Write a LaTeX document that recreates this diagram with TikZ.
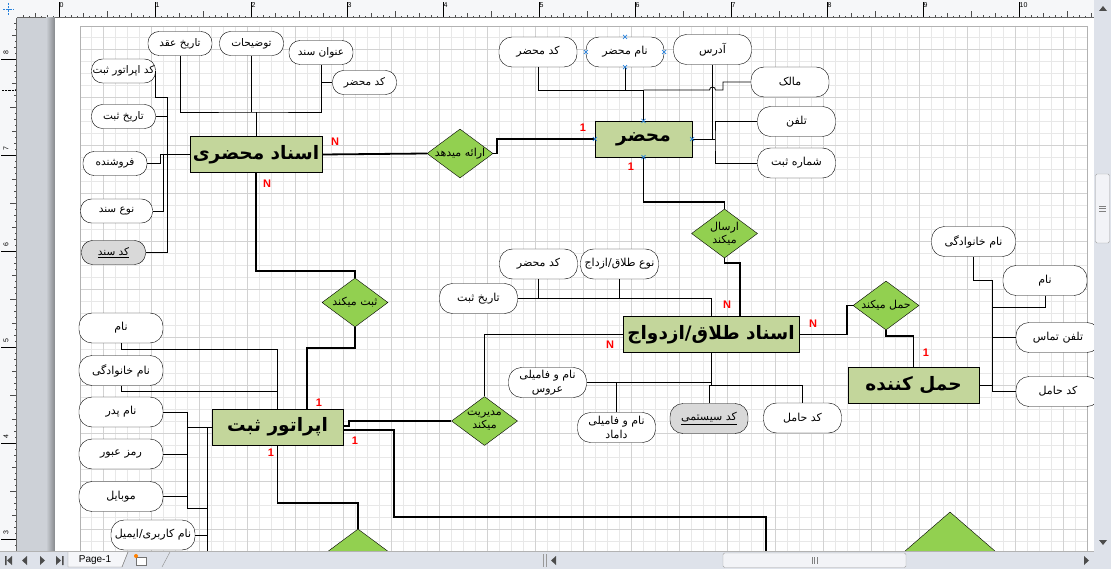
\documentclass[tikz,border=0pt]{standalone}
\usepackage{fontspec}
\usetikzlibrary{shapes.geometric}
\TeXXeTstate=1
\newfontfamily\farsi[Script=Arabic]{DejaVu Sans}
\newfontfamily\arial{Liberation Sans}
\newcommand{\pers}[1]{{\farsi\beginR #1\endR}}
\newcommand{\rtx}[1]{\makebox[0pt]{\pers{#1}}}
\definecolor{entfill}{RGB}{195,214,155}
\definecolor{relfill}{RGB}{146,208,80}
\definecolor{keyfill}{RGB}{217,217,217}
\definecolor{gridc}{RGB}{232,232,232}
\definecolor{gridm}{RGB}{210,210,210}
\definecolor{uibar}{RGB}{222,226,234}
\definecolor{margc}{RGB}{205,209,215}
\definecolor{rulerc}{RGB}{246,247,249}
\definecolor{selc}{RGB}{40,130,220}
\tikzset{
  attr/.style={draw,fill=white,rounded corners=13pt,minimum width=78pt,minimum height=30pt,inner sep=1pt,font=\fontsize{11}{14}\selectfont,align=center},
  smattr/.style={attr,minimum width=64pt,minimum height=24pt,rounded corners=11pt,font=\fontsize{10.5}{12}\selectfont},
  keyattr/.style={fill=keyfill},
  ent/.style={draw,fill=entfill,minimum height=36pt,inner sep=2pt,font=\bfseries\fontsize{18.5}{20}\selectfont},
  rel/.style={diamond,draw,fill=relfill,inner sep=0pt,minimum width=66pt,minimum height=49pt,font=\fontsize{11}{13}\selectfont,align=center},
  link/.style={line width=0.8pt},
  rlink/.style={line width=1.8pt},
  card/.style={text=red,font=\arial\bfseries\fontsize{11}{12}\selectfont,inner sep=0pt},
  selx/.style={selc,line width=0.7pt},
  rnum/.style={font=\arial\fontsize{7}{8}\selectfont,inner sep=0.5pt}
}
\begin{document}
\begin{tikzpicture}[x=1pt,y=-1pt]
\useasboundingbox (0,0) rectangle (1111,569);
\fill[uibar] (0,0) rectangle (1111,569);
\fill[rulerc] (0,0) rectangle (1094,18);
\fill[rulerc] (0,18) rectangle (17,551);
\draw[selc,densely dotted] (3,9) -- (14,9) (8,3) -- (8,15);
\foreach \x in {23,29,...,1091} \draw[black!70] (\x,18) -- (\x,16);
\foreach \x in {23,35,...,1091} \draw[black!70] (\x,18) -- (\x,15);
\foreach \x in {35,59,...,1091} \draw[black!70] (\x,18) -- (\x,13);
\foreach \x in {59,107,...,1091} \draw[black!70] (\x,18) -- (\x,11);
\foreach \x/\n in {59/0,155/1,251/2,347/3,443/4,539/5,635/6,731/7,827/8,923/9,1019/10}{
  \draw (\x,18) -- (\x,2);
  \node[rnum,anchor=north west] (rx\n) at (\x,1.5) {\n};
}
\draw[black!60] (17,17.5) -- (1094,17.5);
\foreach \y in {23,29,...,551} \draw[black!70] (17,\y) -- (15,\y);
\foreach \y in {23,35,...,551} \draw[black!70] (17,\y) -- (14,\y);
\foreach \y in {35,59,...,551} \draw[black!70] (17,\y) -- (12,\y);
\foreach \y in {59,107,...,551} \draw[black!70] (17,\y) -- (10,\y);
\foreach \y/\n in {59/8,155/7,251/6,347/5,443/4,539/3}{
  \draw (17,\y) -- (1,\y);
  \node[rnum,rotate=90] (ry\n) at (6,\y-6) {\n};
}
\draw[black!60] (16.5,18) -- (16.5,551);
\draw[black,densely dotted] (2,90) -- (15,90);
\fill[margc] (17,18) rectangle (55,551);
\shade[left color=margc,right color=margc!65!black] (46,18) rectangle (55,551);
\fill[white] (55,18) rectangle (1094,551);
\begin{scope}
\clip (55,18) rectangle (1094,551);
\foreach \x in {91,103,...,1087} \draw[gridc] (\x,26) -- (\x,551);
\foreach \y in {37,49,...,551} \draw[gridc] (80,\y) -- (1087,\y);
\foreach \x in {103,151,...,1087} \draw[gridm] (\x,26) -- (\x,551);
\foreach \y in {49,97,...,551} \draw[gridm] (80,\y) -- (1087,\y);
\draw[black!30] (80,551) -- (80,26) -- (1087,26) -- (1087,551);

\node[ent,minimum width=132pt] (mahzari) at (256,154.5) {\pers{اسناد محضری}};
\node[ent,minimum width=97pt] (mahzar) at (643.5,139) {\pers{محضر}};
\node[ent,minimum width=176pt] (talagh) at (711,334.5) {\pers{اسناد طلاق/ازدواج}};
\node[ent,minimum width=131pt] (operator) at (277.5,427) {\pers{اپراتور ثبت}};
\node[ent,minimum width=131pt] (haml) at (913.5,385) {\pers{حمل کننده}};

\node[rel] (erae) at (460,153.5) {\rtx{ارائه میدهد}};
\node[rel] (ersal) at (724.5,233.5) {\rtx{ارسال}\\\rtx{میکند}};
\node[rel] (sabt) at (355,302.5) {\rtx{ثبت میکند}};
\node[rel] (modir) at (484.5,421) {\rtx{مدیریت}\\\rtx{میکند}};
\node[rel] (hamlr) at (886,305.5) {\rtx{حمل میکند}};
\node[rel] (rel4) at (358,553.5) {};
\node[rel,minimum width=150pt,minimum height=130pt] (rel5) at (950,577) {};

\node[smattr] (a1) at (180,43.5) {\rtx{تاریخ عقد}};
\node[smattr] (a2) at (251.5,43.5) {\rtx{توضیحات}};
\node[smattr] (a3) at (321,52.5) {\rtx{عنوان سند}};
\node[smattr] (a4) at (364.5,82.5) {\rtx{کد محضر}};
\node[smattr] (a5) at (123.5,71) {\rtx{کد اپراتور ثبت}};
\node[smattr] (a6) at (123.5,116.5) {\rtx{تاریخ ثبت}};
\node[smattr] (a7) at (115,163.5) {\rtx{فروشنده}};
\node[smattr,minimum width=72pt] (a8) at (116.5,211) {\rtx{نوع سند}};
\node[smattr,keyattr] (a9) at (113.5,252.5) {\underline{\pers{کد سند}}};

\node[attr] (b1) at (538,52) {\pers{کد محضر}};
\node[attr] (b2) at (625,52) {\pers{نام محضر}};
\node[attr] (b3) at (712.5,49.5) {\pers{آدرس}};
\node[attr] (b4) at (790,82) {\pers{مالک}};
\node[attr] (b5) at (796.5,121.5) {\pers{تلفن}};
\node[attr] (b6) at (796.5,163) {\pers{شماره ثبت}};

\node[attr] (c1) at (538.5,264) {\pers{کد محضر}};
\node[attr] (c2) at (619.5,264) {\rtx{نوع طلاق/ازداج}};
\node[attr] (c3) at (478.5,298.5) {\pers{تاریخ ثبت}};
\node[attr] (c4) at (547.5,382.5) {\pers{نام و فامیلی}\\\pers{عروس}};
\node[attr] (c5) at (616.5,427.5) {\pers{نام و فامیلی}\\\pers{داماد}};
\node[attr,keyattr] (c6) at (709,418.5) {\underline{\pers{کد سیستمی}}};
\node[attr] (c7) at (802.5,418) {\pers{کد حامل}};

\node[attr,minimum width=84pt] (d1) at (973.5,241.5) {\pers{نام خانوادگی}};
\node[attr,minimum width=84pt] (d2) at (1045,280.5) {\pers{نام}};
\node[attr,minimum width=84pt] (d3) at (1058,337.5) {\pers{تلفن تماس}};
\node[attr,minimum width=84pt] (d4) at (1058,391.5) {\pers{کد حامل}};

\node[attr,minimum width=84pt] (e1) at (121,328) {\pers{نام}};
\node[attr,minimum width=84pt] (e2) at (121,370.5) {\pers{نام خانوادگی}};
\node[attr,minimum width=84pt] (e3) at (121,412) {\pers{نام پدر}};
\node[attr,minimum width=84pt] (e4) at (121,454) {\pers{رمز عبور}};
\node[attr,minimum width=84pt] (e5) at (121,496.5) {\pers{موبایل}};
\node[attr,minimum width=84pt] (e6) at (153,535) {\rtx{نام کاربری/ایمیل}};

\coordinate (j1) at (256,112);
\coordinate (s1) at (167,97);
\draw[link] (mahzari.north) -- (j1);
\draw[link] (a1.south) |- (j1) -| (a3.south);
\draw[link] (a2.south) -- (a2.south |- j1);
\draw[link] (a4.west) -- (a4.west -| a3.south);
\draw[link] (mahzari.west) -| ([xshift=13pt]a7.east) -- (a7.east);
\draw[link] (mahzari.west) -| ([xshift=10.5pt]a8.east) -- (a8.east);
\draw[link] (a5.east) |- (s1) |- (a9.east);
\draw[link] (a6.east) -- (a6.east -| s1);

\coordinate (j3) at (643.5,90);
\coordinate (j4) at (715,139);
\draw[link] (mahzar.north) -- (j3);
\draw[link] (b1.south) |- (j3);
\draw[link] (b2.south) -- (b2.south |- j3);
\draw[link] (j3) -- (709.5,90) arc[start angle=180,end angle=0,radius=3pt] -- (723,90) |- (b4.west);
\draw[link] (b3.south) -- (b3.south |- j4);
\draw[link] (mahzar.east) -- (j4);
\draw[link] (b5.west) -| (j4) |- (b6.west);

\draw[link] (c3.east) -| (talagh.north);
\draw[link] (c1.south) -- (c1.south |- c3.east);
\draw[link] (c2.south) -- (c2.south |- c3.east);
\draw[link] (talagh.south) -- ++(0,32);
\draw[link] (c4.east) -- (c4.east -| talagh.south);
\draw[link] (c5.north) -- (c5.north |- c4.east);
\draw[link] (c6.north) -- ++(0,-18) -| (c7.north);

\coordinate (sp) at (992,280);
\draw[link] (d1.south) |- (sp) |- (d4.west);
\draw[link] (d2.south) -- ++(0,12) -| (sp);
\draw[link] (d3.west) -- (d3.west -| sp);
\draw[link] (haml.east) -- (haml.east -| sp);

\coordinate (k1) at (187,508);
\coordinate (k2) at (207,427);
\draw[link] (e1.south) -- ++(0,6) -| (operator.north);
\draw[link] (e2.south) -- ++(0,6) -| (operator.north);
\draw[link] (operator.west) -- (operator.west -| k1);
\draw[link] (e3.east) -| (k1) -- (k1 -| k2);
\draw[link] (e4.east) -- (e4.east -| k1);
\draw[link] (e5.east) -- (e5.east -| k1);
\draw[link] (k2) -- (207,560);
\draw[link] (e6.east) -- (e6.east -| k2);

\coordinate (off1) at (766,560);
\draw[rlink] (mahzari.east) -- (erae.west);
\draw[rlink] (erae.east) -- ++(4,0) |- (mahzar.west);
\draw[rlink] (mahzari.south) |- ([yshift=7pt]sabt.north) -- (sabt.north);
\draw[rlink] (sabt.south) -- ++(0,21) -| ([xshift=29.5pt]operator.north);
\draw[rlink] (mahzar.south) |- ([yshift=7pt]ersal.north) -- (ersal.north);
\draw[rlink] (ersal.south) -- ++(0,5) -| ([xshift=29pt]talagh.north);
\draw[rlink] (talagh.west) -| (modir.north);
\draw[rlink] (modir.west) -- ++(-102,0) -- ++(0,5) -- ([yshift=1pt]operator.east);
\draw[rlink] ([yshift=-3pt]operator.east) -- ++(51,0) |- (off1 |- 0,517) -- (off1);
\draw[rlink] (operator.south) -- ++(0,58) -| (rel4.north);
\draw[rlink] (talagh.east) -- ++(48,0) |- (hamlr.west);
\draw[rlink] (hamlr.south) -- ++(0,6) -| (haml.north);

\foreach \a in {north,south,east,west}{
  \draw[selx] ([shift={(-2pt,-2pt)}]b2.\a) -- ++(4pt,4pt) ([shift={(-2pt,2pt)}]b2.\a) -- ++(4pt,-4pt);
  \draw[selx] ([shift={(-2pt,-2pt)}]mahzar.\a) -- ++(4pt,4pt) ([shift={(-2pt,2pt)}]mahzar.\a) -- ++(4pt,-4pt);
}

\node[card] (n1) at (335,142) {N};
\node[card] (n2) at (267,184) {N};
\node[card] (n3) at (583,128) {1};
\node[card] (n4) at (631,167) {1};
\node[card] (n5) at (727,305) {N};
\node[card] (n6) at (610,345) {N};
\node[card] (n7) at (813,324) {N};
\node[card] (n8) at (926,353) {1};
\node[card] (n9) at (319,403) {1};
\node[card] (n10) at (355,441) {1};
\node[card] (n11) at (271,453) {1};
\end{scope}

\fill[uibar] (1094,0) rectangle (1111,551);
\fill[black!70] (1099,11) -- (1107,11) -- (1103,6) -- cycle;
\fill[black!70] (1099,540) -- (1107,540) -- (1103,545) -- cycle;
\draw[black!35,fill=white!60!uibar,rounded corners=1.5pt] (1095.5,174) rectangle (1109.5,243);
\draw[black!50] (1099,206) -- (1106,206) (1099,208.5) -- (1106,208.5) (1099,211) -- (1106,211);

\fill[uibar] (0,551) rectangle (1111,569);
\draw[black!30] (0,551.5) -- (1094,551.5);
\fill[black!70] (5,556) rectangle (6.5,565) (12,556) -- (12,565) -- (7,560.5) -- cycle;
\fill[black!70] (27,556) -- (27,565) -- (22,560.5) -- cycle;
\fill[black!70] (40,556) -- (40,565) -- (45,560.5) -- cycle;
\fill[black!70] (56,556) -- (56,565) -- (61,560.5) -- cycle (62,556) rectangle (63.5,565);
\draw[black!45,fill=white!70!uibar] (68,552) -- (68,567) -- (122,567) -- (128,552);
\node[font=\arial\fontsize{10}{12}\selectfont,inner sep=0pt] (tab) at (95,560) {Page-1};
\draw[black!45] (128,552) -- (122,567) (170,552) -- (162,567);
\draw[black!55,fill=white] (136,557) rectangle (146,565);
\fill[orange] (136,556) circle (2pt);
\draw[black!40] (543,554) -- (543,567) (546,554) -- (546,567);
\fill[black!70] (556,556) -- (556,565) -- (551,560.5) -- cycle;
\fill[black!70] (1084,556) -- (1084,565) -- (1089,560.5) -- cycle;
\draw[black!35,fill=white!60!uibar,rounded corners=1.5pt] (723,553) rectangle (906,567.5);
\draw[black!50] (812,557) -- (812,564) (814.5,557) -- (814.5,564) (817,557) -- (817,564);
\end{tikzpicture}
\end{document}
